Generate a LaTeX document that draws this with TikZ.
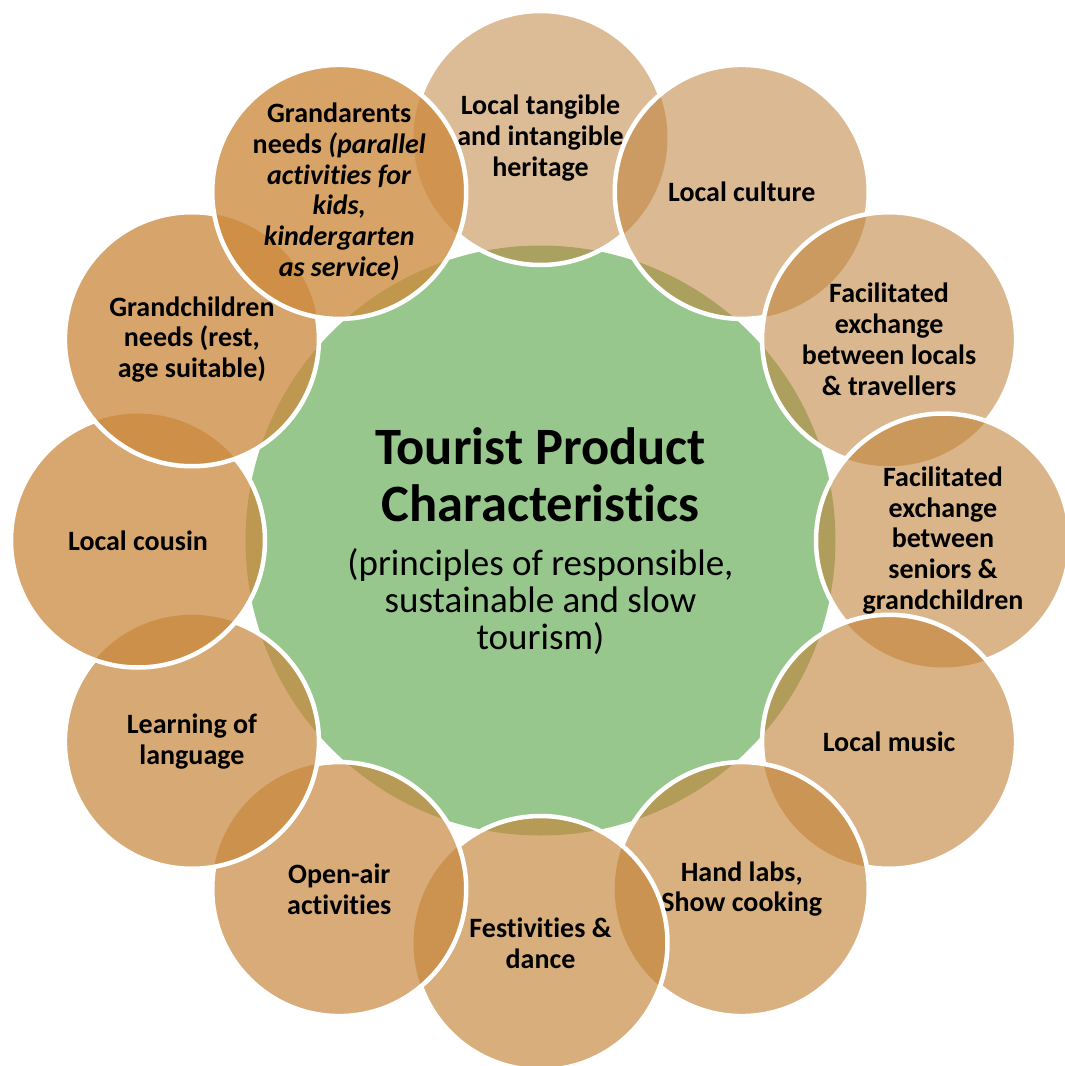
\documentclass[tikz,border=0pt]{standalone}
\usepackage{fontspec}
\setmainfont{Carlito}[Ligatures=NoCommon]
\definecolor{hubgreen}{RGB}{151,199,140}
\definecolor{tanlight}{RGB}{188,128,57}
\definecolor{tandark}{RGB}{205,138,61}

\begin{document}
\begin{tikzpicture}[
      x=1pt, y=1pt,
      every node/.style={inner sep=0pt, align=center},
      hub/.style={circle, fill=hubgreen, minimum size=590pt},
      rim/.style={draw=white, line width=4.5pt},
      petaltext/.style={font=\bfseries\fontsize{28}{30.7}\selectfont},
      headline/.style={font=\bfseries\fontsize{52.5}{56.5}\selectfont},
      subline/.style={font=\fontsize{37}{36.7}\selectfont}
    ]
      \useasboundingbox (-540.5,-525.5) rectangle (524.5,540.5);
      \clip (-540.5,-525.5) rectangle (524.5,540.5);
      \fill[white] (-540.5,-525.5) rectangle (524.5,540.5);

      \node[hub] (hub) at (0,0) {};

      \foreach \k in {1,...,12}
        \coordinate (c\k) at ({120-30*\k}:402.5);

      \foreach \k/\txt in {
          1/{Local tangible\\and intangible\\heritage},
          2/{Local culture},
          3/{Facilitated\\exchange\\between locals\\\& travellers},
          4/{Facilitated\\exchange\\between\\seniors \&\\grandchildren},
          5/{Local music},
          6/{Hand labs,\\Show cooking},
          7/{Festivities \&\\dance},
          8/{Open-air\\activities},
          9/{Learning of\\language},
          10/{Local cousin},
          11/{Grandchildren\\needs (rest,\\age suitable)},
          12/{Grandarents\\needs \textit{(parallel}\\\textit{activities for}\\\textit{kids,}\\\textit{kindergarten}\\\textit{as service)}}} {
        \pgfmathsetmacro\mix{100*(\k-1)/11}
        \pgfmathsetmacro\alph{0.52+0.26*(\k-1)/11}
        \pgfmathtruncatemacro\nxt{\k+1}
        \fill[tandark!\mix!tanlight, fill opacity=\alph] (c\k) circle (127);
        \begin{scope}[even odd rule]
          \ifnum\k<12 \clip (-560,-560) rectangle (560,560) (c\nxt) circle (127);\fi
          \ifnum\k=1 \clip (-560,-560) rectangle (560,560) (c12) circle (127);\fi
          \draw[rim] (c\k) circle (127);
        \end{scope}
        \node[petaltext] (t\k) at (c\k) {\txt};
      }

      \node[headline] (title) at (0,65.5) {Tourist Product\\Characteristics};
      \node[subline] (note) at (0,-61) {(principles of responsible,\\sustainable and slow\\tourism)};
    \end{tikzpicture}
\end{document}
